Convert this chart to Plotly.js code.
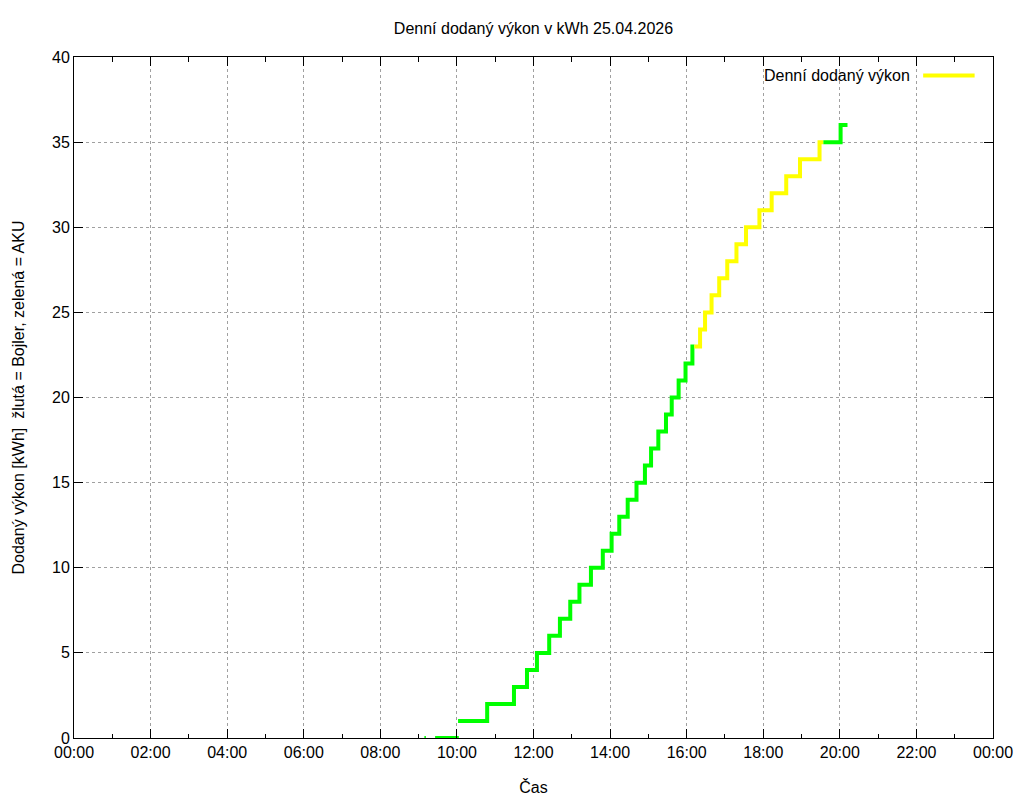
<!DOCTYPE html>
<html>
<head>
<meta charset="utf-8">
<script src="https://cdn.plot.ly/plotly-3.0.1.min.js"></script>
<style>
  body { margin: 0; background: #fff; }
  #chart { width: 1024px; height: 800px; }
</style>
</head>
<body>
<div id="chart"></div>
<script>
// hodiny (desetinne) a kWh, cteno z grafu
const greenHours1 = [9.15, 9.19, null, 9.43, 10.05, null, 10.03, 10.79, 11.49, 11.83, 12.09, 12.41, 12.69, 12.96, 13.2, 13.5, 13.81, 14.04, 14.24, 14.46, 14.69, 14.91, 15.07, 15.26, 15.46, 15.61, 15.79, 15.97, 16.15, 16.2];
const greenKwh1 = [0, 0, null, 0, 0, null, 1, 2, 3, 4, 5, 6, 7, 8, 9, 10, 11, 12, 13, 14, 15, 16, 17, 18, 19, 20, 21, 22, 23, 23];

const yellowHours = [16.2, 16.35, 16.48, 16.65, 16.85, 17.06, 17.3, 17.55, 17.9, 18.22, 18.6, 18.96, 19.47, 19.57];
const yellowKwh = [23, 24, 25, 26, 27, 28, 29, 30, 31, 32, 33, 34, 35, 35];

const greenHours2 = [19.57, 20.02, 20.2];
const greenKwh2 = [35, 36, 36];

const tickHours = [0, 2, 4, 6, 8, 10, 12, 14, 16, 18, 20, 22, 24];
const tickLabels = ["00:00", "02:00", "04:00", "06:00", "08:00", "10:00", "12:00", "14:00", "16:00", "18:00", "20:00", "22:00", "00:00"];

const GREEN = "#00ff00";
const YELLOW = "#ffff00";
const font = { family: "Liberation Sans, Arial, sans-serif", size: 16, color: "#000" };

function stepTrace(x, y, color, name) {
  return {
    x: x, y: y, name: name, showlegend: false,
    type: "scatter", mode: "lines",
    line: { color: color, width: 4, shape: "hv" },
    connectgaps: false,
    hoverinfo: "skip",
  };
}

const traces = [
  stepTrace(greenHours1, greenKwh1, GREEN, "AKU"),
  stepTrace(yellowHours, yellowKwh, YELLOW, "Denní dodaný výkon"),
  stepTrace(greenHours2, greenKwh2, GREEN, "AKU"),
];

const gridStyle = { gridcolor: "#a0a0a0", griddash: "dot", gridwidth: 1 };

const layout = {
  width: 1024, height: 800,
  margin: { l: 74, r: 31, t: 57, b: 62 },
  paper_bgcolor: "#fff", plot_bgcolor: "#fff",
  font: font,
  showlegend: false,
  title: { text: "Denní dodaný výkon v kWh 25.04.2026", xref: "paper", x: 0.5, xanchor: "center", y: 0.965, yanchor: "middle", font: font },
  xaxis: Object.assign({
    range: [0, 24], tickmode: "array", tickvals: tickHours, ticktext: tickLabels,
    ticks: "inside", ticklen: 9, tickcolor: "#000", linecolor: "#000", linewidth: 1,
    mirror: "ticks", showline: true, zeroline: false,
    minor: { dtick: 1, tick0: 0, ticks: "inside", ticklen: 4.5, tickcolor: "#000", showgrid: false },
    title: { text: "Čas", font: font, standoff: 21 },
    tickfont: font,
  }, gridStyle),
  yaxis: Object.assign({
    range: [0, 40], dtick: 5, tick0: 0,
    ticks: "inside", ticklen: 9, tickcolor: "#000", linecolor: "#000", linewidth: 1,
    mirror: "ticks", showline: true, zeroline: false,
    title: { text: "Dodaný výkon [kWh]  žlutá = Bojler, zelená = AKU", font: font, standoff: 23 },
    tickfont: font,
  }, gridStyle),
  annotations: [
    { xref: "paper", yref: "paper", x: 0.912, y: 0.973, xanchor: "right", yanchor: "middle",
      text: "Denní dodaný výkon", showarrow: false, font: font },
  ],
  shapes: [
    { type: "line", xref: "paper", yref: "paper", x0: 0.924, x1: 0.980, y0: 0.973, y1: 0.973,
      line: { color: YELLOW, width: 4 } },
  ],
};

Plotly.newPlot("chart", traces, layout, { staticPlot: true, displayModeBar: false });
</script>
</body>
</html>
